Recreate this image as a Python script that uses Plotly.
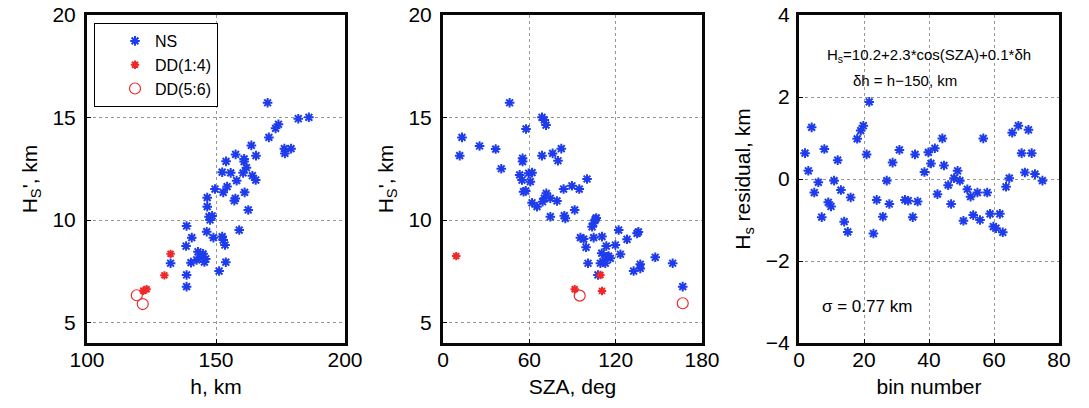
import plotly.graph_objects as go

# ---------------- data ----------------
# Panel 1: Hs vs h
ns_h = [170.0, 181.9, 186.0, 174.2, 173.1, 170.5, 176.5, 179.1, 176.7, 163.7,
        165.5, 157.6, 160.9, 160.9, 153.9, 152.4, 155.7, 160.5, 164.1, 165.4,
        158.0, 149.6, 154.3, 152.8, 161.1, 157.1, 157.5, 146.6, 146.6, 162.5,
        147.3, 147.7, 148.5, 138.6, 159.0, 146.4, 140.6, 149.0, 152.4, 152.8,
        153.5, 138.4, 143.0, 145.0, 144.0, 146.0, 145.5, 142.5, 140.3, 153.8,
        138.6, 151.2, 138.6, 132.4, 161.8]
ns_hs1 = [15.72, 14.94, 15.01, 14.67, 14.47, 14.03, 13.48, 13.48, 13.25, 13.64,
          13.14, 13.20, 12.98, 12.85, 12.86, 12.33, 12.30, 12.30, 12.16, 11.95,
          11.92, 11.51, 11.63, 11.35, 11.35, 10.94, 11.05, 11.09, 10.65, 10.49,
          10.16, 10.00, 10.20, 9.71, 9.51, 9.43, 9.14, 9.14, 9.19, 9.02,
          8.78, 8.73, 8.45, 8.35, 8.20, 8.10, 7.95, 8.05, 7.92, 7.94,
          7.32, 7.51, 6.75, 7.89, 12.55]
dd14_h = [132.4, 130.0, 121.8, 123.1]
dd14_hs1 = [8.35, 7.30, 6.55, 6.62]
dd56_h = [119.3, 121.6]
dd56_hs1 = [6.33, 5.90]

# Panel 2: Hs vs SZA
ns_sza = [46.3, 68.8, 70.4, 71.6, 57.7, 13.2, 11.6, 25.4, 36.6, 40.5,
          55.3, 55.3, 68.8, 76.2, 82.2, 79.9, 53.3, 59.5, 61.9, 60.7,
          54.9, 56.0, 57.5, 61.9, 65.3, 70.4, 69.2, 71.8, 74.6, 79.2,
          83.8, 89.6, 94.7, 100.1, 74.6, 84.3, 85.0, 91.5, 105.9, 104.7,
          103.6, 106.5, 95.5, 97.8, 99.4, 104.7, 110.5, 122.1, 127.9, 134.9,
          135.8, 113.5, 119.8, 123.3, 110.3, 111.2, 114.0, 115.1, 116.3, 112.8,
          109.4, 100.8, 107.7, 132.5, 137.1, 137.1, 147.5, 159.6, 166.6]
ns_hs2 = [15.72, 15.01, 14.88, 14.63, 14.44, 14.03, 13.14, 13.61, 13.46, 12.50,
          13.01, 12.85, 13.14, 13.25, 13.48, 12.89, 12.20, 12.28, 12.31, 11.87,
          11.95, 11.38, 11.42, 10.84, 10.65, 11.06, 10.89, 11.30, 11.06, 10.93,
          11.51, 11.67, 11.51, 12.00, 10.16, 10.21, 10.08, 10.49, 10.03, 9.84,
          9.67, 10.10, 9.14, 9.07, 8.67, 9.14, 9.19, 9.51, 9.06, 9.35,
          9.42, 8.73, 8.78, 8.33, 8.38, 7.97, 8.21, 8.24, 8.13, 7.89,
          7.89, 7.89, 7.32, 7.51, 7.84, 7.64, 8.18, 7.89, 6.75]
dd14_sza = [9.2, 91.5, 109.4, 110.5]
dd14_hs2 = [8.24, 6.62, 7.32, 6.54]
dd56_sza = [95.0, 166.6]
dd56_hs2 = [6.31, 5.94]

# Panel 3: residuals vs bin number
bins = [1.85, 2.87, 3.9, 4.7, 5.95, 7.0, 7.8, 9.0, 9.85, 10.8,
        11.9, 12.9, 13.9, 15.0, 15.9, 17.9, 19.0, 19.8, 20.8, 21.6,
        22.9, 23.9, 25.8, 27.0, 27.8, 28.8, 30.9, 32.6, 33.6, 35.0,
        35.7, 36.5, 38.6, 39.8, 40.6, 41.8, 42.6, 44.1, 44.6, 45.9,
        46.8, 47.7, 48.8, 49.5, 50.6, 51.8, 52.8, 53.6, 54.9, 55.7,
        56.7, 57.9, 58.8, 59.8, 60.6, 61.8, 62.7, 63.7, 64.7, 65.6,
        67.5, 68.5, 69.5, 70.6, 71.6, 72.6, 74.9]
resid = [0.63, 0.20, 1.26, -0.33, -0.08, -0.93, 0.73, -0.57, -0.67, -0.04,
         0.46, -0.27, -1.04, -1.29, -0.45, 0.98, 1.18, 1.30, 0.60, 1.88,
         -1.33, -0.51, -0.92, -0.04, -0.61, 0.40, 0.71, -0.51, -0.53, -0.93,
         0.60, -0.55, 0.17, 0.65, 0.38, 0.75, -0.37, 0.99, 0.33, -0.15,
         -0.61, 0.02, 0.20, -0.04, -1.02, -0.25, -0.43, -0.88, -0.33, -1.00,
         0.99, -0.33, -0.85, -1.16, -1.20, -0.85, -1.30, -0.19, 0.02, 1.13,
         1.30, 0.63, 0.16, 1.20, 0.63, 0.12, -0.04]

# ---------------- styling ----------------
FONT = "Liberation Sans, Arial, sans-serif"
BLUE = "rgb(30,60,235)"
RED = "rgb(240,40,40)"
FRAME = "rgb(8,8,8)"

ns_marker = dict(symbol="asterisk-open", size=8, line=dict(width=2, color=BLUE), color=BLUE)
dd14_marker = dict(symbol="asterisk-open", size=7, line=dict(width=2, color=RED), color=RED)
dd56_marker = dict(symbol="circle-open", size=11, line=dict(width=1.2, color=RED), color=RED)

fig = go.Figure()
fig.add_trace(go.Scatter(x=ns_h, y=ns_hs1, mode="markers", marker=ns_marker, name="NS",
                         xaxis="x", yaxis="y"))
fig.add_trace(go.Scatter(x=dd14_h, y=dd14_hs1, mode="markers", marker=dd14_marker, name="DD(1:4)",
                         xaxis="x", yaxis="y"))
fig.add_trace(go.Scatter(x=dd56_h, y=dd56_hs1, mode="markers", marker=dd56_marker, name="DD(5:6)",
                         xaxis="x", yaxis="y"))
fig.add_trace(go.Scatter(x=ns_sza, y=ns_hs2, mode="markers", marker=ns_marker, showlegend=False,
                         xaxis="x2", yaxis="y2"))
fig.add_trace(go.Scatter(x=dd14_sza, y=dd14_hs2, mode="markers", marker=dd14_marker, showlegend=False,
                         xaxis="x2", yaxis="y2"))
fig.add_trace(go.Scatter(x=dd56_sza, y=dd56_hs2, mode="markers", marker=dd56_marker, showlegend=False,
                         xaxis="x2", yaxis="y2"))
fig.add_trace(go.Scatter(x=bins, y=resid, mode="markers", marker=ns_marker, showlegend=False,
                         xaxis="x3", yaxis="y3"))

W, H = 1089, 408
ydom = [1 - 343 / H, 1 - 15 / H]


def ax(domain, rng, dtick, tick0, title, anchor, standoff, lblstand):
    return dict(domain=domain, range=rng, dtick=dtick, tick0=tick0, tickmode="linear",
                automargin=False,
                showline=True, mirror=True, linewidth=3, linecolor=FRAME,
                ticks="inside", ticklen=4, tickcolor="black", tickwidth=1,
                ticklabelstandoff=lblstand,
                showgrid=True, gridcolor="rgb(150,150,150)", griddash="dot", gridwidth=1,
                zeroline=False, anchor=anchor,
                tickfont=dict(family=FONT, size=21, color="black"),
                title=dict(text=title, font=dict(family=FONT, size=21, color="black"),
                           standoff=standoff))


xa1 = ax([87 / W, 345 / W], [100, 200], 50, 100, "h, km", "y", 10, -4)
xa2 = ax([443 / W, 702 / W], [0, 180], 60, 0, "SZA, deg", "y2", 10, -4)
xa3 = ax([799 / W, 1059 / W], [0, 80], 20, 0, "bin number", "y3", 10, -4)
ya1 = ax(ydom, [4, 20], 5, 0, "H<sub>S</sub>', km", "x", 10, 4)
ya2 = ax(ydom, [4, 20], 5, 0, "H<sub>S</sub>', km", "x2", 10, 4)
ya3 = ax(ydom, [-4, 4], 2, 0, "H<sub>s</sub> residual, km", "x3", 10, 2)

fig.update_layout(
    width=W, height=H,
    margin=dict(l=0, r=0, t=0, b=0, autoexpand=False),
    paper_bgcolor="white", plot_bgcolor="white",
    xaxis=xa1, yaxis=ya1, xaxis2=xa2, yaxis2=ya2, xaxis3=xa3, yaxis3=ya3,
    showlegend=True,
    legend=dict(x=94 / W, y=1 - 23 / H, xanchor="left", yanchor="top",
                bordercolor="black", borderwidth=1, bgcolor="white",
                font=dict(family=FONT, size=16, color="black"),
                itemwidth=30, tracegroupgap=0, indentation=20),
    annotations=[
        dict(x=40, y=3.02, xref="x3", yref="y3", showarrow=False,
             text="H<sub>s</sub>=10.2+2.3*cos(SZA)+0.1*δh",
             font=dict(family=FONT, size=15, color="black")),
        dict(x=32.6, y=2.41, xref="x3", yref="y3", showarrow=False,
             text="δh = h−150, km",
             font=dict(family=FONT, size=15, color="black")),
        dict(x=20.9, y=-3.1, xref="x3", yref="y3", showarrow=False,
             text="σ = 0.77 km",
             font=dict(family=FONT, size=17, color="black")),
    ],
)

fig.write_html("out.html")
